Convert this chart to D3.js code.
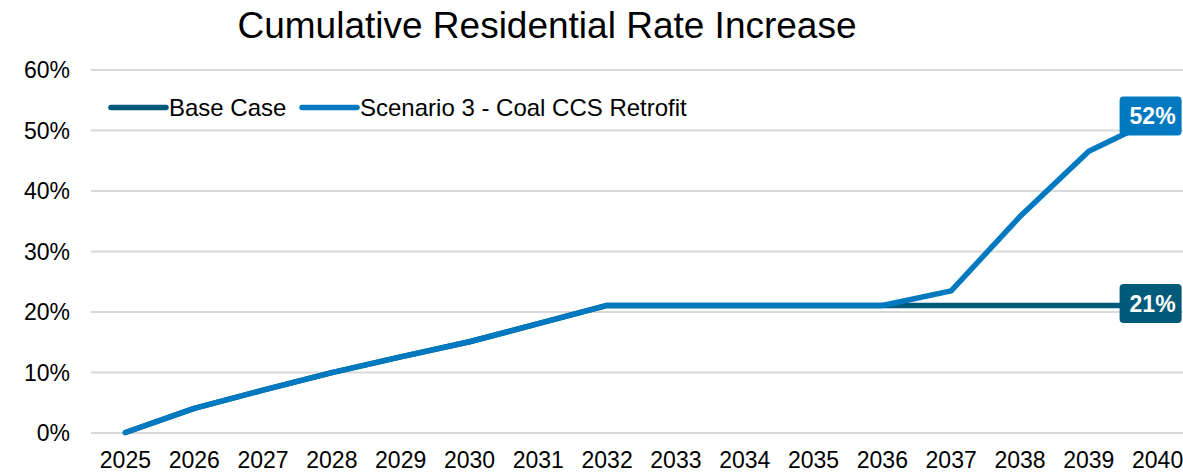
<!DOCTYPE html>
<html>
<head>
<meta charset="utf-8">
<script src="https://cdn.jsdelivr.net/npm/d3@7"></script>
<style>
  html, body { margin: 0; padding: 0; background: #ffffff; }
  svg { display: block; font-family: "Liberation Sans", Arial, sans-serif; }
</style>
</head>
<body>
<svg id="chart" width="1183" height="472"></svg>
<script>
// Cumulative residential rate increase by year (fraction of base rate)
const years = ["2025","2026","2027","2028","2029","2030","2031","2032",
               "2033","2034","2035","2036","2037","2038","2039","2040"];
const baseCase = [0, 0.04, 0.07, 0.099, 0.125, 0.15, 0.18, 0.21,
                  0.21, 0.21, 0.21, 0.21, 0.21, 0.21, 0.21, 0.21];
const scenario3 = [0, 0.04, 0.07, 0.099, 0.125, 0.15, 0.18, 0.21,
                   0.21, 0.21, 0.21, 0.21, 0.234, 0.357, 0.465, 0.52];
const yTicks = [0, 0.1, 0.2, 0.3, 0.4, 0.5, 0.6];
const seriesNames = ["Base Case", "Scenario 3 - Coal CCS Retrofit"];
const seriesColors = ["#005a7a", "#0079c1"];
const endLabels = ["21%", "52%"];

const series = [
  { name: seriesNames[0], values: baseCase, color: seriesColors[0], label: endLabels[0] },
  { name: seriesNames[1], values: scenario3, color: seriesColors[1], label: endLabels[1] }
];

const svg = d3.select("#chart");

const x = d3.scaleBand().domain(years).range([91, 1192]).padding(0);
const cx = d => x(d) + x.bandwidth() / 2;
const y = d3.scaleLinear().domain([0, 0.6]).range([432.5, 69.5]);

// Title
svg.append("text")
  .attr("x", 547).attr("y", 37.5)
  .attr("text-anchor", "middle")
  .attr("font-size", 37)
  .attr("fill", "#000")
  .text("Cumulative Residential Rate Increase");

// Horizontal gridlines with percentage labels
const yAxis = d3.axisLeft(y).tickValues(yTicks).tickSize(-(1192 - 91))
  .tickFormat(d3.format(".0%")).tickPadding(21);
const gy = svg.append("g").attr("transform", "translate(91,0)").call(yAxis);
gy.select(".domain").remove();
gy.selectAll(".tick line").attr("stroke", "#d9d9d9").attr("stroke-width", 2);
gy.selectAll(".tick text")
  .attr("font-size", 23).attr("fill", "#000")
  .attr("font-family", "'Liberation Sans', Arial, sans-serif")
  .attr("dy", "0.36em");

// Year labels
const xAxis = d3.axisBottom(x).tickSize(0).tickPadding(0);
const gx = svg.append("g").attr("transform", "translate(0,451)").call(xAxis);
gx.select(".domain").remove();
gx.selectAll(".tick text")
  .attr("font-size", 23).attr("fill", "#000")
  .attr("font-family", "'Liberation Sans', Arial, sans-serif")
  .attr("dy", "0.74em");

// Series lines
const line = d3.line().x((d, i) => cx(years[i])).y(d => y(d));
series.forEach(s => {
  svg.append("path")
    .datum(s.values)
    .attr("d", line)
    .attr("fill", "none")
    .attr("stroke", s.color)
    .attr("stroke-width", 5.5)
    .attr("stroke-linejoin", "round")
    .attr("stroke-linecap", "round");
});

// End-of-line value labels
series.forEach(s => {
  const last = s.values[s.values.length - 1];
  const px = cx(years[years.length - 1]) - 7;
  const py = y(last) - 2;
  const g = svg.append("g").attr("transform", `translate(${px},${py})`);
  g.append("rect")
    .attr("x", -31).attr("y", -19.5)
    .attr("width", 62).attr("height", 39)
    .attr("rx", 4).attr("ry", 4)
    .attr("fill", s.color);
  g.append("text")
    .attr("x", 2)
    .attr("text-anchor", "middle")
    .attr("dy", "0.36em")
    .attr("font-size", 23)
    .attr("font-weight", "bold")
    .attr("fill", "#fff")
    .text(s.label);
});

// Legend
const legendX = [111, 302];
series.forEach((s, i) => {
  const g = svg.append("g").attr("transform", `translate(${legendX[i]},107.5)`);
  g.append("line")
    .attr("x1", 0).attr("x2", 55).attr("y1", 0).attr("y2", 0)
    .attr("stroke", s.color).attr("stroke-width", 5.5)
    .attr("stroke-linecap", "round");
  g.append("text")
    .attr("x", 58).attr("dy", "0.36em")
    .attr("font-size", 24).attr("fill", "#000")
    .text(s.name);
});
</script>
</body>
</html>
